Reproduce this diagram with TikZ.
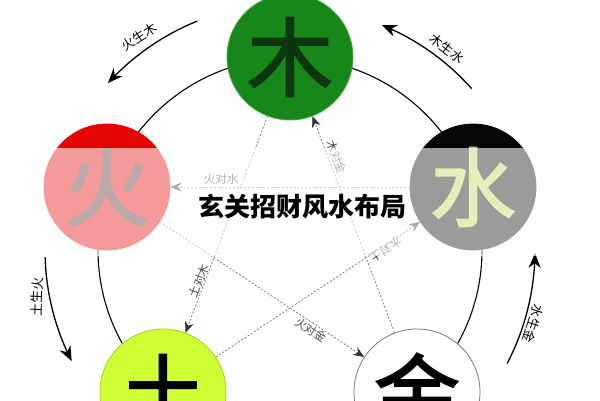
\documentclass[tikz,border=0pt]{standalone}
\usepackage{fontspec}
\newfontfamily\cjk{Noto Sans CJK SC}
\newfontfamily\cjkbig[FakeBold=2]{Noto Sans CJK SC}
\usetikzlibrary{arrows.meta}
\definecolor{muGreen}{RGB}{22,135,24}
\definecolor{muEdge}{RGB}{70,175,70}
\definecolor{muText}{RGB}{12,55,14}
\definecolor{huoRed}{RGB}{228,4,4}
\definecolor{huoText}{RGB}{80,40,40}
\definecolor{shuiBlack}{RGB}{6,6,6}
\definecolor{shuiText}{RGB}{185,214,80}
\definecolor{tuYellow}{RGB}{206,255,52}
\definecolor{tuEdge}{RGB}{160,210,30}
\definecolor{jinEdge}{RGB}{120,120,120}
\definecolor{dashGray}{RGB}{125,125,125}
\definecolor{tipGray}{RGB}{50,50,50}
\definecolor{labGray}{RGB}{70,70,70}
\tikzset{
  element/.style={circle, minimum size=126pt, inner sep=0pt, line width=0.8pt,
    font=\cjkbig\fontsize{86}{86}\selectfont},
  shengarrow/.style={line width=1.3pt, black, -{Stealth[length=15pt,width=12pt]}},
  kearrow/.style={dashGray, line width=0.8pt, dash pattern=on 2pt off 1.8pt,
    -{Stealth[length=11pt,width=9pt,color=tipGray]}},
  shenglabel/.style={font=\cjk\fontsize{13}{13}\selectfont, black, inner sep=0pt},
  kelabel/.style={font=\cjk\fontsize{11.5}{11.5}\selectfont, labGray, inner sep=0pt},
}
\begin{document}
\begin{tikzpicture}[x=1pt,y=-1pt]
\useasboundingbox (0,0) rectangle (600,400);
\fill[white] (0,0) rectangle (600,400);
% big ring
\draw[line width=1.1pt] (290,250) circle[radius=192];
% element circles
\node[element, fill=muGreen, draw=muEdge, text=muText] (mu) at (290,57) {木};
\node[element, fill=huoRed, draw=huoRed, text=huoText] (huo) at (107,187) {火};
\node[element, fill=shuiBlack, draw=shuiBlack, text=shuiText] (shui) at (473,187) {水};
\node[element, fill=tuYellow, draw=tuEdge, text=black] (tu) at (163,392) {土};
\node[element, fill=white, draw=jinEdge, text=black] (jin) at (417,392) {金};
% ke (dashed) connectors
\draw[kearrow] (shui) -- (huo);
\draw[kearrow] (jin) -- (mu);
\draw[kearrow] (mu) -- (tu);
\draw[kearrow] (tu) -- (shui);
\draw[kearrow] (huo) -- (jin);
% ke labels
\node[kelabel] (l1) at (221,179) {火对水};
\node[kelabel, rotate=-69] (l2) at (337,157) {木对金};
\node[kelabel, rotate=69] (l3) at (199,281) {土对木};
\node[kelabel, rotate=-147] (l4) at (386,250) {水对土};
\node[kelabel, rotate=-33] (l5) at (311,330) {火对金};
% sheng arrows (outer arcs)
\draw[shengarrow] plot[domain=-112:-137.5, samples=40] ({290+247*cos(\x)},{250+247*sin(\x)});
\draw[shengarrow] plot[domain=-41.6:-67.8, samples=40] ({290+243*cos(\x)},{250+243*sin(\x)});
\draw[shengarrow] plot[domain=-181.7:-207, samples=40] ({290+245*cos(\x)},{250+245*sin(\x)});
\draw[shengarrow] plot[domain=27.6:0.7, samples=40] ({290+245*cos(\x)},{250+245*sin(\x)});
% sheng labels
\node[shenglabel, rotate=33] (s1) at (139,37) {火生木};
\node[shenglabel, rotate=-38] (s2) at (447,49) {木生水};
\node[shenglabel, rotate=88] (s3) at (37,297) {土生火};
\node[shenglabel, rotate=-108] (s4) at (533,324) {水生金};
% translucent band
\fill[white, opacity=0.6] (0,148) rectangle (600,256);
% title
\node[font=\cjk\bfseries\fontsize{26}{26}\selectfont, text=black, inner sep=0pt] (title) at (302,207) {玄关招财风水布局};
\end{tikzpicture}
\end{document}
